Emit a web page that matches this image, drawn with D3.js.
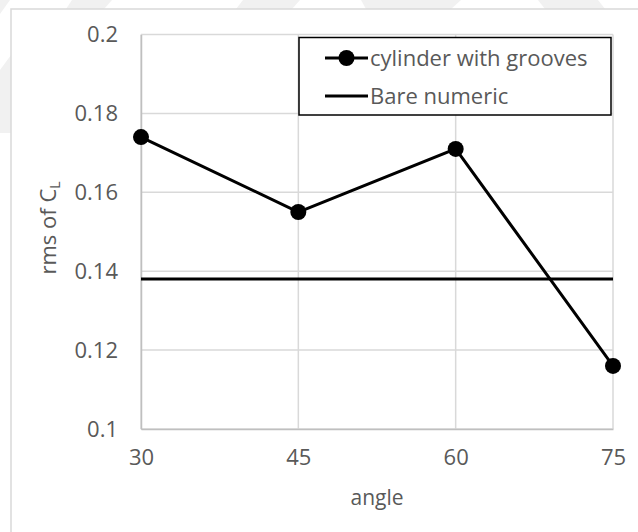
<!DOCTYPE html>
<html>
<head>
<meta charset="utf-8">
<script src="https://cdn.jsdelivr.net/npm/d3@7"></script>
<style>
  html, body { margin: 0; padding: 0; background: #fff; }
  svg { display: block; }
  text { font-family: "Open Sans", sans-serif; fill: #595959; }
</style>
</head>
<body>
<svg id="chart" width="638" height="532"></svg>
<script>
// rms of lift coefficient versus groove angle
const angles = [30, 45, 60, 75];
const rmsGrooves = [0.174, 0.155, 0.171, 0.116];
const bareNumeric = 0.138;
const yTicks = [0.1, 0.12, 0.14, 0.16, 0.18, 0.2];
const xTicks = [30, 45, 60, 75];
const seriesNames = ["cylinder with grooves", "Bare numeric"];

const svg = d3.select("#chart");
const W = 638, H = 532;
const plot = { left: 141, top: 34.5, right: 613, bottom: 429 };
const font = "'Open Sans', sans-serif";

// faint background bands along the outer margin
svg.append("rect").attr("width", W).attr("height", H).attr("fill", "#fff");
const bands = svg.append("g").attr("fill", "#f1f1f1");
[
  "M0,0 L10,0 L0,14 Z",
  "M0,70 L11,55 L11,133 L0,133 Z",
  "M66,9 L72,0 L112,0 L104,9 Z",
  "M236,9 L243,0 L300,0 L292,9 Z",
  "M366,9 L361,0 L461,0 L451,9 Z",
  "M545,9 L538,0 L598,0 L605,9 Z"
].forEach(d => bands.append("path").attr("d", d));

// chart frame
svg.append("rect")
  .attr("x", 11).attr("y", 9).attr("width", W).attr("height", H)
  .attr("fill", "#fff").attr("stroke", "#d9d9d9").attr("stroke-width", 1.5);

const x = d3.scaleLinear().domain([30, 75]).range([plot.left, plot.right]);
const y = d3.scaleLinear().domain([0.1, 0.2]).range([plot.bottom, plot.top]);

// gridlines
const grid = svg.append("g").attr("stroke", "#d9d9d9").attr("stroke-width", 1.5);
grid.selectAll(".hg").data(yTicks).join("line")
  .attr("x1", plot.left).attr("x2", plot.right)
  .attr("y1", d => y(d)).attr("y2", d => y(d));
grid.selectAll(".vg").data(xTicks).join("line")
  .attr("y1", plot.top).attr("y2", plot.bottom)
  .attr("x1", d => x(d)).attr("x2", d => x(d));

// axes
const yAxis = d3.axisLeft(y).tickValues(yTicks).tickSize(0).tickPadding(23)
  .tickFormat(d => String(+d.toFixed(2)));
const gy = svg.append("g").attr("transform", `translate(${plot.left},0)`).call(yAxis);
gy.select(".domain").attr("stroke", "#bfbfbf").attr("stroke-width", 1.5);
gy.selectAll("text").style("font-size", "22px").style("font-family", font).attr("fill", "#595959");

const xAxis = d3.axisBottom(x).tickValues(xTicks).tickSize(0).tickPadding(20);
const gx = svg.append("g").attr("transform", `translate(0,${plot.bottom})`).call(xAxis);
gx.select(".domain").attr("stroke", "#bfbfbf").attr("stroke-width", 1.5);
gx.selectAll("text").style("font-size", "22px").style("font-family", font).attr("fill", "#595959");

// axis titles
svg.append("text")
  .attr("x", (plot.left + plot.right) / 2).attr("y", 505)
  .attr("text-anchor", "middle").style("font-size", "21px").text("angle");

const yt = svg.append("text")
  .attr("transform", `translate(56,228) rotate(-90)`)
  .attr("text-anchor", "middle").style("font-size", "22px");
yt.append("tspan").text("rms of C");
yt.append("tspan").attr("dy", 4).style("font-size", "14px").text("L");

// reference line
svg.append("line")
  .attr("x1", plot.left).attr("x2", plot.right)
  .attr("y1", y(bareNumeric)).attr("y2", y(bareNumeric))
  .attr("stroke", "#000").attr("stroke-width", 3);

// grooved cylinder series
const pts = angles.map((a, i) => [a, rmsGrooves[i]]);
svg.append("path")
  .datum(pts)
  .attr("fill", "none").attr("stroke", "#000").attr("stroke-width", 3)
  .attr("d", d3.line().x(d => x(d[0])).y(d => y(d[1])));
svg.selectAll(".pt").data(pts).join("circle")
  .attr("cx", d => x(d[0])).attr("cy", d => y(d[1])).attr("r", 8).attr("fill", "#000");

// legend
const lg = svg.append("g");
lg.append("rect").attr("x", 299).attr("y", 37.5).attr("width", 312).attr("height", 77.5)
  .attr("fill", "#fff").attr("stroke", "#000").attr("stroke-width", 1.5);
const rows = [58, 96];
rows.forEach((ry, i) => {
  lg.append("line").attr("x1", 325).attr("x2", 368).attr("y1", ry).attr("y2", ry)
    .attr("stroke", "#000").attr("stroke-width", 3);
  if (i === 0) lg.append("circle").attr("cx", 346.5).attr("cy", ry).attr("r", 8).attr("fill", "#000");
  lg.append("text").attr("x", 370).attr("y", ry + 7.5).style("font-size", "22px").text(seriesNames[i]);
});
</script>
</body>
</html>
